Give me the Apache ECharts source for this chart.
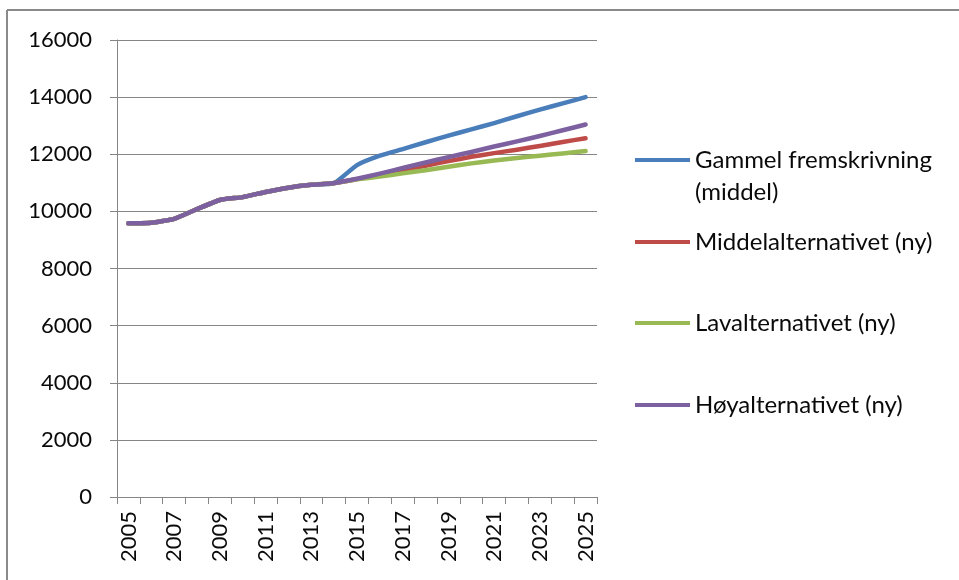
<!DOCTYPE html>
<html>
<head>
<meta charset="utf-8">
<script src="https://cdn.jsdelivr.net/npm/echarts@6/dist/echarts.min.js"></script>
<style>html,body{margin:0;padding:0;background:#fff}#c{width:959px;height:580px}</style>
</head>
<body>
<div id="c"></div>
<script>
const years = ['2005','2006','2007','2008','2009','2010','2011','2012','2013','2014','2015','2016','2017','2018','2019','2020','2021','2022','2023','2024','2025'];
const hist = [9580, 9600, 9740, 10080, 10400, 10500, 10680, 10830, 10930, 10990];
const gammel = hist.concat([11620, 11950, 12180, 12420, 12650, 12870, 13090, 13330, 13560, 13780, 14000]);
const middel = hist.concat([11130, 11280, 11440, 11600, 11760, 11910, 12040, 12160, 12290, 12430, 12560]);
const lav = hist.concat([11120, 11220, 11330, 11440, 11560, 11680, 11780, 11870, 11950, 12030, 12110]);
const hoy = hist.concat([11140, 11320, 11520, 11710, 11900, 12080, 12270, 12450, 12640, 12840, 13040]);
const names = ['Gammel fremskrivning (middel)', 'Middelalternativet (ny)', 'Lavalternativet (ny)', 'Høyalternativet (ny)'];
const legendLines = ['Gammel fremskrivning', 'Middelalternativet (ny)', 'Lavalternativet (ny)', 'Høyalternativet (ny)'];
const colors = ['#4A7EBB', '#BE4B48', '#98B954', '#7D60A0'];
const values = [gammel, middel, lav, hoy];

const FONT = 'Lato';
const chart = echarts.init(document.getElementById('c'));
const legendCenters = [160, 242, 323, 405];
const legends = names.map((n, i) => ({
  data: [n],
  orient: 'vertical',
  left: 635,
  top: legendCenters[i] - 14,
  padding: 0,
  itemWidth: 55,
  itemHeight: 4,
  itemGap: 0,
  icon: 'rect',
  selectedMode: false,
  formatter: () => legendLines[i],
  textStyle: { fontFamily: FONT, fontSize: 24, color: '#0a0a0a', lineHeight: 28 }
}));

chart.setOption({
  animation: false,
  backgroundColor: '#fff',
  grid: { left: 117, right: 362, top: 40, bottom: 83, containLabel: false },
  legend: legends,
  xAxis: {
    type: 'category',
    data: years,
    boundaryGap: true,
    axisLine: { lineStyle: { color: '#868686', width: 1 } },
    axisTick: { show: true, interval: 0, length: 7, lineStyle: { color: '#868686' } },
    axisLabel: { interval: 1, rotate: 90, margin: 14, fontFamily: FONT, fontSize: 22, color: '#0a0a0a' },
    splitLine: { show: false }
  },
  yAxis: {
    type: 'value',
    min: 0, max: 16000, interval: 2000,
    axisLine: { show: true, lineStyle: { color: '#868686', width: 1 } },
    axisTick: { show: true, length: 7, lineStyle: { color: '#868686' } },
    axisLabel: { margin: 25, fontFamily: FONT, fontSize: 22, color: '#0a0a0a', formatter: v => String(v) },
    splitLine: { lineStyle: { color: '#868686', width: 1 } }
  },
  series: names.map((n, i) => ({
    name: n,
    type: 'line',
    data: values[i],
    symbol: 'none',
    smooth: 0.15,
    color: colors[i],
    lineStyle: { width: 4.5, color: colors[i], cap: 'round', join: 'round' },
    z: 2 + i
  })),
  graphic: [
    { type: 'line', shape: { x1: 7, y1: 10, x2: 959, y2: 10 }, style: { stroke: '#8a8a8a', lineWidth: 2 } },
    { type: 'line', shape: { x1: 7, y1: 10, x2: 7, y2: 580 }, style: { stroke: '#8a8a8a', lineWidth: 2 } },
    { type: 'text', left: 695, top: 180, style: { text: '(middel)', font: '24px Lato', fill: '#0a0a0a' } }
  ]
});
</script>
</body>
</html>
